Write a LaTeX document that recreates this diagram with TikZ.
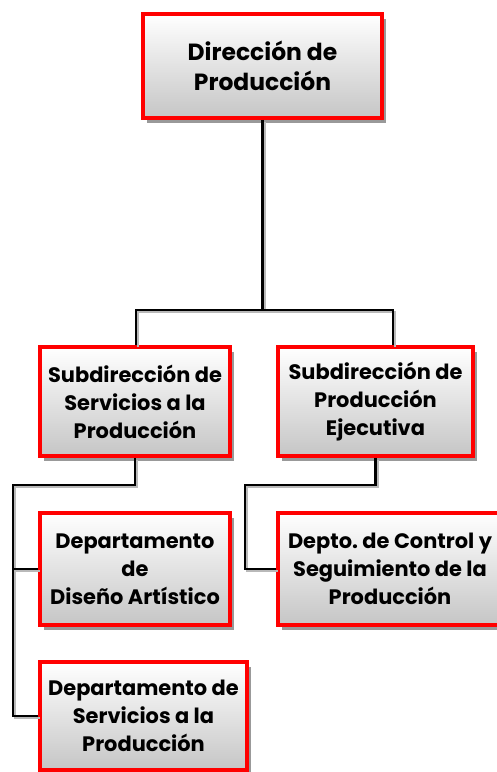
\documentclass[tikz,border=0pt]{standalone}
\usepackage{fontspec}
\setmainfont{Poppins}
\usetikzlibrary{shadows}

\begin{document}
\begin{tikzpicture}[x=1bp, y=-1bp,
  caja/.style={draw=red, line width=3.5bp, top color=white, bottom color=gray!45,
    drop shadow={shadow xshift=4bp, shadow yshift=-5bp, fill=gray!80, opacity=1},
    align=center, inner sep=0pt, font=\bfseries\fontsize{21}{28}\selectfont},
  linea/.style={line width=2.5bp, black,
    preaction={draw, gray!55, line width=2.5bp, transform canvas={shift={(2bp,-2bp)}}}}]
\useasboundingbox (0,0) rectangle (497,772);
% cajas
\node[caja, minimum width=239bp, minimum height=104bp, font=\bfseries\fontsize{23.5}{30}\selectfont] (dir) at (262.5,66) {Dirección de\\Producción};
\node[caja, minimum width=190bp, minimum height=109bp] (subA) at (135,401.5) {Subdirección de\\Servicios a la\\Producción};
\node[caja, minimum width=195bp, minimum height=109bp] (subB) at (375.5,401.5) {Subdirección de\\Producción\\Ejecutiva};
\node[caja, minimum width=190bp, minimum height=112bp] (depA) at (135,569) {Departamento\\de\\Diseño Artístico};
\node[caja, minimum width=207bp, minimum height=108bp] (depB) at (143.5,716) {Departamento de\\Servicios a la\\Producción};
\node[caja, minimum width=224bp, minimum height=112bp] (depC) at (390,569) {Depto.\ de Control y\\Seguimiento de la\\Producción};
% lineas
\coordinate (hA) at (136,310);
\coordinate (hB) at (393,310);
\coordinate (bA) at (13,485);
\coordinate (bB) at (245,485);
\draw[linea] (dir.south) -- (dir.south |- hA);
\draw[linea] (hA |- subA.north) -- (hA) -- (hB) -- (hB |- subB.north);
\draw[linea] (subA.south) -- (subA.south |- bA) -- (bA) -- (bA |- depB.west) -- (depB.west);
\draw[linea] (bA |- depA.west) -- (depA.west);
\draw[linea] (subB.south) -- (subB.south |- bB) -- (bB) -- (bB |- depC.west) -- (depC.west);
\end{tikzpicture}
\end{document}
